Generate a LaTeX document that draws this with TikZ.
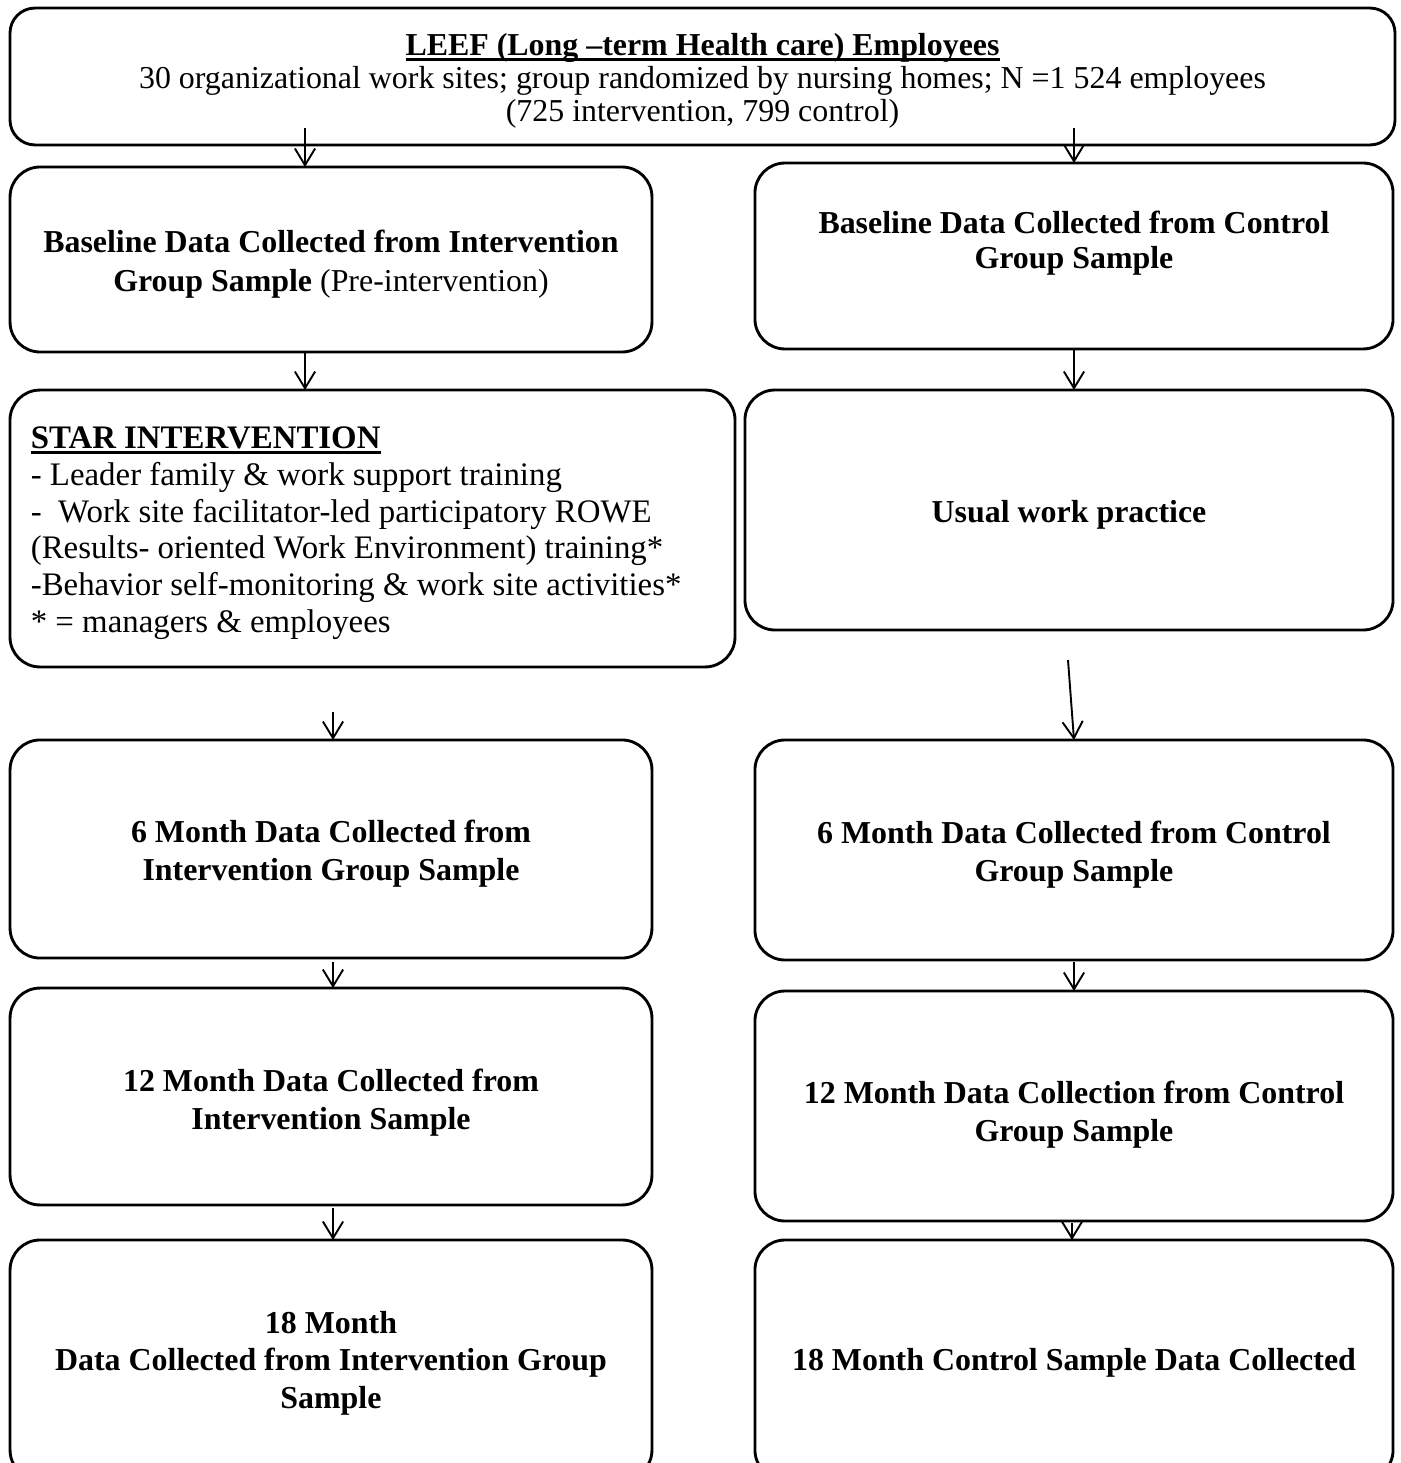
\documentclass[tikz,border=0pt,12pt]{standalone}
\usepackage{fontspec}
\setmainfont{Liberation Serif}
\usetikzlibrary{arrows.meta}
\newcommand{\thickul}[1]{\leavevmode\setbox0\hbox{#1}\rlap{\rule[-2.3pt]{\wd0}{1.1pt}}\box0}
\begin{document}
\begin{tikzpicture}[x=0.42pt,y=-0.42pt,inner sep=0pt,outer sep=0pt,
box/.style={draw,rounded corners=12.6pt,line width=1.2pt,align=center,minimum width=269.6pt},
flow/.style={-{Straight Barb[length=7pt,width=8.5pt]},line width=0.8pt}]
\clip (0,0) rectangle (1400,1463);
\node[box,rounded corners=10.5pt,minimum width=581.7pt,minimum height=57.5pt,font={\fontsize{13.4}{13.9}\selectfont}] (top) at (702.5,76.5)
  {\rule{0pt}{13pt}\thickul{\textbf{LEEF (Long –term Health care) Employees}}\\30 organizational work sites; group randomized by nursing homes; N =1 524 employees\\(725 intervention, 799 control)};
% baseline
\node[box,minimum height=77.7pt,font={\fontsize{13.4}{16.4}\selectfont}] (B1L) at (331,259.5)
  {\rule{0pt}{13pt}\textbf{Baseline Data Collected from Intervention}\\\textbf{Group Sample} (Pre-intervention)};
\node[box,minimum width=268pt,minimum height=78.1pt,font={\fontsize{13.4}{14.7}\selectfont\bfseries}] (B1R) at (1074,256)
  {Baseline Data Collected from Control\\Group Sample\rule[-14pt]{0pt}{0pt}};
% intervention / usual practice
\node[box,minimum width=304.5pt,minimum height=116.3pt,font={\fontsize{13.8}{15.45}\selectfont}] (star) at (372.5,528.5)
  {\parbox{287pt}{\raggedright\rule{0pt}{13pt}\thickul{\textbf{STAR INTERVENTION}}\\
  - Leader family \& work support training\\
  -\ \ Work site facilitator-led participatory ROWE\\
  (Results- oriented Work Environment) training*\\
  -Behavior self-monitoring \& work site activities*\\
  {}* = managers \& employees}};
\node[box,minimum width=272.2pt,minimum height=100.8pt,font={\fontsize{13.4}{16}\selectfont\bfseries}] (usual) at (1069,510)
  {\rule{0pt}{13pt}Usual work practice};
% follow-up
\node[box,minimum height=91.6pt,font={\fontsize{13.4}{16}\selectfont\bfseries}] (M6L) at (331,849)
  {\rule{0pt}{13pt}6 Month Data Collected from\\Intervention Group Sample};
\node[box,minimum width=268pt,minimum height=92.4pt,font={\fontsize{13.4}{16}\selectfont\bfseries}] (M6R) at (1074,850)
  {\rule{0pt}{13pt}6 Month Data Collected from Control\\Group Sample};
\node[box,minimum height=91.1pt,font={\fontsize{13.4}{16}\selectfont\bfseries}] (M12L) at (331,1096.5)
  {\rule{0pt}{14.5pt}12 Month Data Collected from\\Intervention Sample};
\node[box,minimum width=268pt,minimum height=96.6pt,font={\fontsize{13.4}{16}\selectfont\bfseries}] (M12R) at (1074,1106)
  {\rule{0pt}{17pt}12 Month Data Collection from Control\\Group Sample};
\node[box,minimum height=100.8pt,font={\fontsize{13.4}{15.75}\selectfont\bfseries}] (M18L) at (331,1360)
  {\rule{0pt}{12pt}18 Month\\Data Collected from Intervention Group\\Sample};
\node[box,minimum width=268pt,minimum height=100.8pt,font={\fontsize{13.4}{16}\selectfont\bfseries}] (M18R) at (1074,1360)
  {\rule{0pt}{12pt}18 Month Control Sample Data Collected};
% arrow columns
\coordinate (colL) at (305,0);
\coordinate (colM) at (333,0);
\coordinate (colR) at (1074,0);
\coordinate (tilt) at (1068,660);
\draw[flow] (top.south -| colL) ++(0,-17) -- (B1L.north -| colL);
\draw[flow] (top.south -| colR) ++(0,-17) -- (B1R.north -| colR);
\draw[flow] (B1L.south -| colL) -- (star.north -| colL);
\draw[flow] (B1R.south -| colR) -- (usual.north -| colR);
\draw[flow] (star.south -| colM) ++(0,45) -- (M6L.north -| colM);
\draw[flow] (tilt) -- (M6R.north -| colR);
\draw[flow] (M6L.south -| colM) ++(0,4) -- (M12L.north -| colM);
\draw[flow] (M6R.south -| colR) ++(0,2) -- (M12R.north -| colR);
\draw[flow] (M12L.south -| colM) ++(0,3) -- (M18L.north -| colM);
\draw[flow] (M12R.south -| 1072,0) ++(0,2) -- (M18R.north -| 1072,0);
\end{tikzpicture}
\end{document}
